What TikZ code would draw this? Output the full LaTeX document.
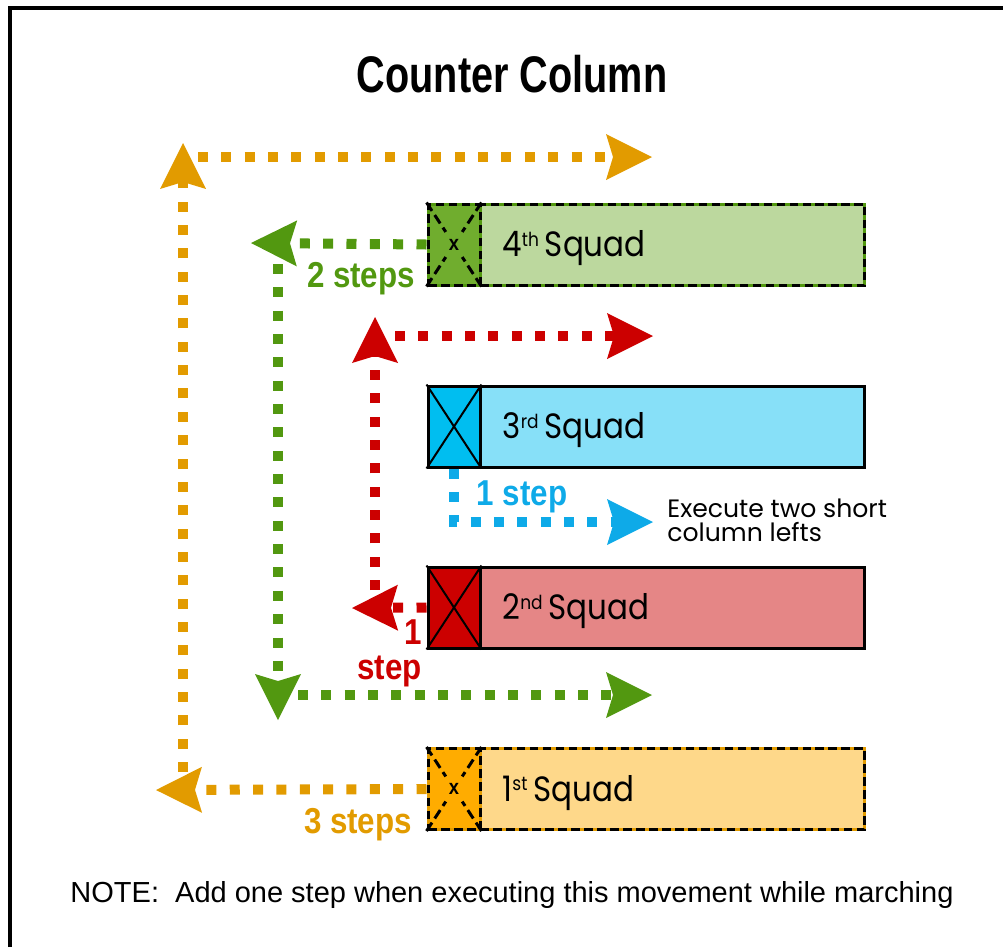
\documentclass[tikz,border=0pt]{standalone}
\usepackage{fontspec}
\setmainfont{Poppins}
\newfontfamily\squadfont[FakeStretch=0.88]{Poppins}
\newfontfamily\labelfont[FakeStretch=0.87]{Liberation Sans}
\newfontfamily\titlefont[FakeStretch=0.77]{Liberation Sans}
\newfontfamily\notefont{Liberation Sans}
\usetikzlibrary{arrows.meta}

\definecolor{ccorange}{RGB}{226,155,0}
\definecolor{ccgreen}{RGB}{82,152,16}
\definecolor{ccred}{RGB}{204,0,0}
\definecolor{ccblue}{RGB}{14,170,232}
\definecolor{fillone}{RGB}{254,216,138}
\definecolor{frontone}{RGB}{255,172,0}
\definecolor{filltwo}{RGB}{229,134,134}
\definecolor{fronttwo}{RGB}{204,0,0}
\definecolor{fillthree}{RGB}{135,224,248}
\definecolor{frontthree}{RGB}{0,190,240}
\definecolor{fillfour}{RGB}{188,216,158}
\definecolor{frontfour}{RGB}{112,173,46}

\newcommand{\sq}[1]{{\fontsize{11}{11}\selectfont\raisebox{0.55em}{#1}}\,}

\tikzset{
  dots/.style={line width=0.2cm, dash pattern=on 0.2cm off 0.267cm},
  ccarrow/.style={-{Stealth[length=0.92cm,width=0.92cm,inset=0.14cm,line width=0pt]}},
  body/.style={line width=0.06cm, minimum width=7.7cm, minimum height=1.62cm,
    inner sep=0pt, text width=6.8cm, align=left, text height=14pt, text depth=0pt,
    font=\squadfont\fontsize{20}{24}\selectfont},
  front/.style={line width=0.06cm, minimum width=1.04cm, minimum height=1.62cm, inner sep=0pt},
  dashsq/.style={draw=#1, postaction={draw=black, dash pattern=on 0.17cm off 0.09cm}},
  cross/.style={line width=0.04cm},
  dashcross/.style={line width=0.06cm, dash pattern=on 0.2cm off 0.1cm, shorten >=0.3cm},
  steplabel/.style={font=\labelfont\bfseries\fontsize{20.5}{20}\selectfont, inner sep=0pt},
}

\begin{document}
\begin{tikzpicture}[x=0.02cm,y=-0.02cm]
  \useasboundingbox (0,0) rectangle (1003,947);
  \draw[line width=0.08cm] (10,947) -- (10,8) -- (1003,8);

  \node[font=\titlefont\bfseries\fontsize{29.3}{32}\selectfont, anchor=base] (title) at (512,92) {Counter Column};

  % squads
  \node[body, fill=fillfour, dashsq=ccgreen] (sq4) at (672.5,244.5) {4\sq{th}Squad};
  \node[front, fill=frontfour, dashsq=ccgreen] (f4) at (454,244.5) {};
  \node[body, fill=fillthree, draw] (sq3) at (672.5,426.5) {3\sq{rd}Squad};
  \node[front, fill=frontthree, draw] (f3) at (454,426.5) {};
  \node[body, fill=filltwo, draw] (sq2) at (672.5,607.5) {2\sq{nd}Squad};
  \node[front, fill=fronttwo, draw] (f2) at (454,607.5) {};
  \node[body, fill=fillone, dashsq=ccorange] (sq1) at (672.5,789) {1\sq{st}Squad};
  \node[front, fill=frontone, dashsq=ccorange] (f1) at (454,789) {};

  \draw[cross] (f3.north west) -- (f3.south east) (f3.north east) -- (f3.south west);
  \draw[cross] (f2.north west) -- (f2.south east) (f2.north east) -- (f2.south west);
  \foreach \f in {f4,f1} {
    \draw[dashcross] (\f.north west) -- (\f.center);
    \draw[dashcross] (\f.north east) -- (\f.center);
    \draw[dashcross] (\f.south west) -- (\f.center);
    \draw[dashcross] (\f.south east) -- (\f.center);
    \node[font=\labelfont\bfseries\fontsize{12}{12}\selectfont, inner sep=0pt] (\f-x) at (\f.center) {x};
  }

  % 1st squad, 3 steps
  \coordinate (o-tip) at (156,790);
  \coordinate (o-up) at (183,772);
  \coordinate (o-uptip) at (183,143);
  \coordinate (o-top) at (198,157);
  \coordinate (o-toptip) at (652,157);
  \draw[dots, ccorange, ccarrow] (f1.west) -- (o-tip);
  \draw[dots, ccorange, ccarrow] (o-up) -- (o-uptip);
  \draw[dots, ccorange, ccarrow] (o-top) -- (o-toptip);
  \node[steplabel, text=ccorange, anchor=base] (o-lab) at (358,833) {3 steps};

  % 4th squad, 2 steps
  \coordinate (g-tip) at (251,243);
  \coordinate (g-down) at (278,264);
  \coordinate (g-downtip) at (278,720);
  \coordinate (g-low) at (298,695);
  \coordinate (g-lowtip) at (652,695);
  \draw[dots, ccgreen, ccarrow] (f4.west) -- (g-tip);
  \draw[dots, ccgreen, ccarrow] (g-down) -- (g-downtip);
  \draw[dots, ccgreen, ccarrow] (g-low) -- (g-lowtip);
  \node[steplabel, text=ccgreen, anchor=base] (g-lab) at (361,287) {2 steps};

  % 2nd squad, 1 step
  \coordinate (r-tip) at (352,608);
  \coordinate (r-up) at (375,590);
  \coordinate (r-uptip) at (375,317);
  \coordinate (r-top) at (395,336);
  \coordinate (r-toptip) at (653,336);
  \draw[dots, ccred, ccarrow] (f2.west) -- (r-tip);
  \draw[dots, ccred, ccarrow] (r-up) -- (r-uptip);
  \draw[dots, ccred, ccarrow] (r-top) -- (r-toptip);
  \node[steplabel, text=ccred, align=right, anchor=north east] (r-lab) at (422,619) {1\\step};

  % 3rd squad, 1 step
  \coordinate (b-tip) at (653,522);
  \draw[dots, ccblue, ccarrow] (f3.south) |- (b-tip);
  \node[steplabel, text=ccblue, anchor=base] (b-lab) at (522,505) {1 step};

  \node[font=\fontsize{14.3}{13.2}\selectfont, align=left, anchor=north west, inner sep=0pt] (execute) at (667,499) {Execute two short\\column lefts};

  \node[font=\notefont\fontsize{16.5}{18}\selectfont, anchor=base] (note) at (512,902) {NOTE:\ \ Add one step when executing this movement while marching};
\end{tikzpicture}
\end{document}
